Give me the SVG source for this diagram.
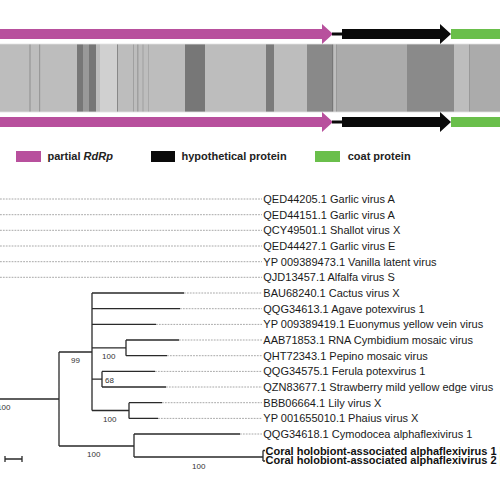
<svg xmlns="http://www.w3.org/2000/svg" width="500" height="477" viewBox="0 0 500 477">
<style>
.lbl{font-family:"Liberation Sans",Arial,sans-serif;font-size:11px;fill:#1a1a1a}
.bl{font-family:"Liberation Sans",Arial,sans-serif;font-size:11px;font-weight:bold;fill:#111}
.bs{font-family:"Liberation Sans",Arial,sans-serif;font-size:8px;fill:#333}
.lg{font-family:"Liberation Sans",Arial,sans-serif;font-size:11px;font-weight:bold;fill:#222}
.br{stroke:#2a2a2a;stroke-width:1.3;fill:none}
.dt{stroke:#a8a8a8;stroke-width:1;stroke-dasharray:1.8 1.1;fill:none}
.mag{fill:#b8509d}
.blk{fill:#0a0a0a}
.grn{fill:#6abf4b}
</style>
<g id="genome">
<rect x="0" y="44" width="336" height="68" fill="#bdbdbd"/>
<rect x="336" y="44" width="164" height="68" fill="#ababab"/>
<rect x="29" y="44" width="2" height="68" fill="#a5a5a5"/>
<rect x="39" y="44" width="1.2" height="68" fill="#999"/>
<rect x="77" y="44" width="6" height="68" fill="#777"/>
<rect x="83" y="44" width="6" height="68" fill="#999"/>
<rect x="89" y="44" width="7" height="68" fill="#777"/>
<rect x="100" y="44" width="17" height="68" fill="#d0d0d0"/>
<rect x="117" y="44" width="1" height="68" fill="#888"/>
<rect x="133" y="44" width="1" height="68" fill="#a0a0a0"/>
<rect x="137" y="44" width="1.5" height="68" fill="#a0a0a0"/>
<rect x="142.5" y="44" width="1" height="68" fill="#a0a0a0"/>
<rect x="148" y="44" width="1" height="68" fill="#a8a8a8"/>
<rect x="185" y="44" width="20" height="68" fill="#777"/>
<rect x="266" y="44" width="8" height="68" fill="#7b7b7b"/>
<rect x="307" y="44" width="26" height="68" fill="#898989"/>
<rect x="332" y="44" width="1.2" height="68" fill="#777"/>
<rect x="336" y="44" width="1" height="68" fill="#999"/>
<rect x="407" y="44" width="47" height="68" fill="#8a8a8a"/>
<rect x="454" y="44" width="15" height="68" fill="#bdbdbd"/>
<rect x="469" y="44" width="1" height="68" fill="#999"/>
<line x1="0" y1="44" x2="500" y2="44" stroke="#e2e2e2" stroke-width="0.8"/>
<line x1="0" y1="112" x2="500" y2="112" stroke="#e2e2e2" stroke-width="0.8"/>
</g>
<g id="top-arrows">
<polygon class="mag" points="0,29 322,29 322,24 333,34 322,44 322,39 0,39"/>
<rect class="blk" x="332" y="32.5" width="11" height="3"/>
<polygon class="blk" points="342,29 440,29 440,24 451,34 440,44 440,39 342,39"/>
<rect class="grn" x="451" y="29" width="49" height="10"/>
</g>
<g id="bottom-arrows">
<polygon class="mag" points="0,117 322,117 322,112 333,122 322,132 322,127 0,127"/>
<rect class="blk" x="332" y="120.5" width="11" height="3"/>
<polygon class="blk" points="342,117 440,117 440,112 451,122 440,132 440,127 342,127"/>
<rect class="grn" x="451" y="117" width="49" height="10"/>
</g>
<g id="legend">
<rect class="mag" x="16" y="151" width="25" height="11"/>
<text class="lg" x="47.5" y="159.7">partial <tspan font-style="italic">RdRp</tspan></text>
<rect class="blk" x="151" y="151" width="24" height="11"/>
<text class="lg" x="181.5" y="159.7">hypothetical protein</text>
<rect class="grn" x="315" y="151" width="25" height="11"/>
<text class="lg" x="347.7" y="159.7">coat protein</text>
</g>
<g id="connectors">
<line class="dt" x1="0" y1="199" x2="262" y2="199"/>
<line class="dt" x1="0" y1="214.7" x2="262" y2="214.7"/>
<line class="dt" x1="0" y1="230.3" x2="262" y2="230.3"/>
<line class="dt" x1="0" y1="246" x2="262" y2="246"/>
<line class="dt" x1="0" y1="261.7" x2="262" y2="261.7"/>
<line class="dt" x1="0" y1="277.3" x2="262" y2="277.3"/>
<line class="dt" x1="184" y1="293" x2="262" y2="293"/>
<line class="dt" x1="180" y1="308.7" x2="262" y2="308.7"/>
<line class="dt" x1="156" y1="324.4" x2="262" y2="324.4"/>
<line class="dt" x1="179" y1="340" x2="262" y2="340"/>
<line class="dt" x1="167" y1="355.7" x2="262" y2="355.7"/>
<line class="dt" x1="155" y1="371.4" x2="262" y2="371.4"/>
<line class="dt" x1="166" y1="387" x2="262" y2="387"/>
<line class="dt" x1="162" y1="402.7" x2="262" y2="402.7"/>
<line class="dt" x1="158" y1="418.4" x2="262" y2="418.4"/>
<line class="dt" x1="240" y1="434" x2="262" y2="434"/>
<path class="br" d="M0,399 H59 M59,352 V446 M59,352 H92 M92,293 V410.5 M92,293 H184 M92,308.7 H180 M92,324.4 H156 M92,347.9 H126 M126,340 V355.7 M126,340 H179 M126,355.7 H167 M92,379.2 H102 M102,371.4 V387 M102,371.4 H155 M102,387 H166 M92,410.5 H129 M129,402.7 V418.4 M129,402.7 H162 M129,418.4 H158 M59,446 H134 M134,434 V457 M134,434 H240 M134,457 H263 M263,450.5 V461 M263,450.5 H265 M263,461 H265"/>
<path class="br" d="M5,459 H22 M5,456 V462 M22,456 V462"/>
</g>
<g id="bootstrap">
<text class="bs" x="10.5" y="410" text-anchor="end">100</text>
<text class="bs" x="71" y="363">99</text>
<text class="bs" x="102" y="359">100</text>
<text class="bs" x="105" y="383">68</text>
<text class="bs" x="103" y="422">100</text>
<text class="bs" x="87" y="457">100</text>
<text class="bs" x="192" y="469">100</text>
</g>
<g id="leaves">
<text class="lbl" x="263.3" y="203">QED44205.1 Garlic virus A</text>
<text class="lbl" x="263.3" y="218.7">QED44151.1 Garlic virus A</text>
<text class="lbl" x="263.3" y="234.3">QCY49501.1 Shallot virus X</text>
<text class="lbl" x="263.3" y="250">QED44427.1 Garlic virus E</text>
<text class="lbl" x="263.3" y="265.7">YP 009389473.1 Vanilla latent virus</text>
<text class="lbl" x="263.3" y="281.3">QJD13457.1 Alfalfa virus S</text>
<text class="lbl" x="263.3" y="297">BAU68240.1 Cactus virus X</text>
<text class="lbl" x="263.3" y="312.7">QQG34613.1 Agave potexvirus 1</text>
<text class="lbl" x="263.3" y="328.4">YP 009389419.1 Euonymus yellow vein virus</text>
<text class="lbl" x="263.3" y="344">AAB71853.1 RNA Cymbidium mosaic virus</text>
<text class="lbl" x="263.3" y="359.7">QHT72343.1 Pepino mosaic virus</text>
<text class="lbl" x="263.3" y="375.4">QQG34575.1 Ferula potexvirus 1</text>
<text class="lbl" x="263.3" y="391">QZN83677.1 Strawberry mild yellow edge virus</text>
<text class="lbl" x="263.3" y="406.7">BBB06664.1 Lily virus X</text>
<text class="lbl" x="263.3" y="422.4">YP 001655010.1 Phaius virus X</text>
<text class="lbl" x="263.3" y="438">QQG34618.1 Cymodocea alphaflexivirus 1</text>
<text class="bl" x="265.5" y="454.7">Coral holobiont-associated alphaflexivirus 1 |</text>
<text class="bl" x="265.5" y="464">Coral holobiont-associated alphaflexivirus 2 |</text>
</g>
</svg>
